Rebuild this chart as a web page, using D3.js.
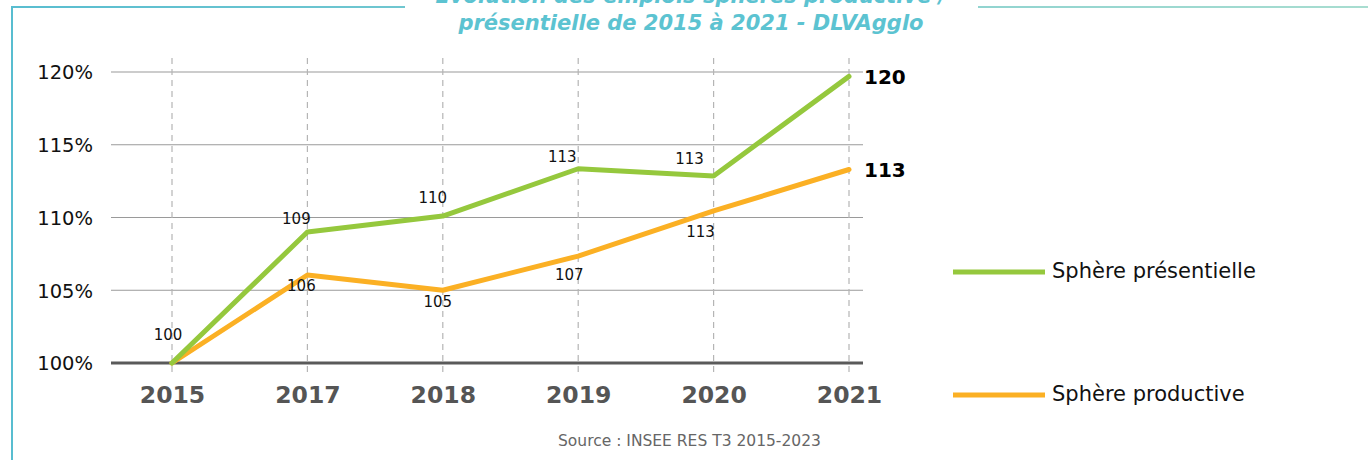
<!DOCTYPE html>
<html><head><meta charset="utf-8">
<script src="https://cdn.jsdelivr.net/npm/d3@7"></script>
<style>body{margin:0;background:#fff;}svg{display:block;font-family:"DejaVu Sans",sans-serif;}</style>
</head><body>
<svg id="c" width="1368" height="460"></svg>
<script>
const years = ["2015","2017","2018","2019","2020","2021"];
const presentielle = [100, 109.0, 110.1, 113.35, 112.85, 119.7];
const productive = [100, 106.05, 105.0, 107.35, 110.45, 113.3];
const presLabels = ["100","109","110","113","113","120"];
const prodLabels = ["","106","105","107","113","113"];
const yTicks = [100, 105, 110, 115, 120];
const seriesNames = ["Sphère présentielle", "Sphère productive"];
const colors = ["#95c83d", "#fbb024"];
const FONT = "'DejaVu Sans',sans-serif";

const svg = d3.select("#c");
// frame
const grad = svg.append("defs").append("linearGradient").attr("id","fg");
grad.append("stop").attr("offset","0%").attr("stop-color","#58bdd0");
grad.append("stop").attr("offset","100%").attr("stop-color","#a8ddd0");
svg.append("rect").attr("x",0).attr("y",6).attr("width",1368).attr("height",2).attr("fill","url(#fg)");
svg.append("rect").attr("x",405).attr("y",5).attr("width",573).attr("height",4).attr("fill","#fff");
svg.append("rect").attr("x",0).attr("y",0).attr("width",11).attr("height",460).attr("fill","#fff");
svg.append("rect").attr("x",11).attr("y",6).attr("width",2).attr("height",454).attr("fill","#58bdd0");

// title
svg.append("text").attr("x",691).attr("y",3).attr("text-anchor","middle")
  .attr("font-size",21).attr("font-weight",700).attr("font-style","italic").attr("fill","#5cc3d1")
  .text("Évolution des emplois sphères productive /");
svg.append("text").attr("x",691).attr("y",30).attr("text-anchor","middle")
  .attr("font-size",21).attr("font-weight",700).attr("font-style","italic").attr("fill","#5cc3d1")
  .text("présentielle de 2015 à 2021 - DLVAgglo");

const x = d3.scalePoint().domain(years).range([172, 849]);
const y = d3.scaleLinear().domain([100, 120]).range([363, 72]);

// horizontal gridlines
svg.append("g").selectAll("line").data(yTicks.filter(d=>d>100)).join("line")
  .attr("x1",111).attr("x2",863).attr("y1",d=>y(d)).attr("y2",d=>y(d))
  .attr("stroke","#9a9a9a").attr("stroke-width",1.2);
// vertical dashed
svg.append("g").selectAll("line").data(years).join("line")
  .attr("x1",d=>x(d)).attr("x2",d=>x(d)).attr("y1",58).attr("y2",372)
  .attr("stroke","#b5b5b5").attr("stroke-width",1.2).attr("stroke-dasharray","6,5");
// y axis labels
const yAxis = svg.append("g").attr("transform","translate(96,0)")
  .call(d3.axisLeft(y).tickValues(yTicks).tickSize(0).tickFormat(d=>d+"%"));
yAxis.select(".domain").remove();
yAxis.selectAll("text").attr("font-size",19.5).attr("fill","#111").attr("font-family",FONT).attr("dy","0.35em");
// baseline
svg.append("line").attr("x1",111).attr("x2",863).attr("y1",y(100)).attr("y2",y(100))
  .attr("stroke","#5a5a5a").attr("stroke-width",3);
// x axis labels
const xAxis = svg.append("g").attr("transform","translate(0,386)")
  .call(d3.axisBottom(x).tickSize(0).tickPadding(0));
xAxis.select(".domain").remove();
xAxis.selectAll("text").attr("font-size",23.5).attr("font-weight",700).attr("fill","#555")
  .attr("font-family",FONT).attr("dy","0.71em");

// lines
const line = d3.line().x((d,i)=>x(years[i])).y(d=>y(d));
[productive, presentielle].forEach((s,k)=>{
  const c = k===0 ? colors[1] : colors[0];
  svg.append("path").datum(s).attr("d",line).attr("fill","none")
    .attr("stroke",c).attr("stroke-width",5).attr("stroke-linejoin","round").attr("stroke-linecap","round");
});

// data labels
const presOff = [[-4,-23],[-11,-8],[-10,-13],[-16,-7],[-24,-12],[null,null]];
const prodOff = [[0,0],[-6,16],[-5,17],[-9,24],[-13,26],[null,null]];
presentielle.forEach((v,i)=>{
  if(i===5) return;
  svg.append("text").attr("x",x(years[i])+presOff[i][0]).attr("y",y(v)+presOff[i][1])
    .attr("text-anchor","middle").attr("font-size",15).attr("fill","#111").text(presLabels[i]);
});
productive.forEach((v,i)=>{
  if(i===0||i===5) return;
  svg.append("text").attr("x",x(years[i])+prodOff[i][0]).attr("y",y(v)+prodOff[i][1])
    .attr("text-anchor","middle").attr("font-size",15).attr("fill","#111").text(prodLabels[i]);
});
svg.append("text").attr("x",864).attr("y",y(presentielle[5])+8).attr("font-size",20).attr("font-weight",700).attr("fill","#000").text(presLabels[5]);
svg.append("text").attr("x",864).attr("y",y(productive[5])+8).attr("font-size",20).attr("font-weight",700).attr("fill","#000").text(prodLabels[5]);

// legend
const legY = [272, 395];
seriesNames.forEach((n,i)=>{
  svg.append("line").attr("x1",953).attr("x2",1045).attr("y1",legY[i]).attr("y2",legY[i])
    .attr("stroke",colors[i]).attr("stroke-width",5);
  svg.append("text").attr("x",1052).attr("y",legY[i]+6).attr("font-size",21).attr("fill","#111").text(n);
});

// source
svg.append("text").attr("x",558).attr("y",446).attr("font-size",15.5).attr("fill","#666").text("Source : INSEE RES T3 2015-2023");
</script>
</body></html>
